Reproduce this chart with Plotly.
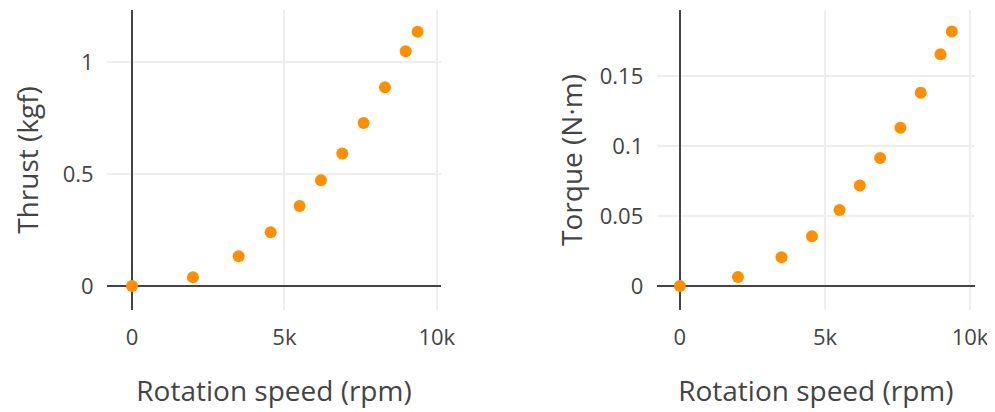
import plotly.graph_objects as go
from plotly.subplots import make_subplots

rpm = [0, 2000, 3500, 4550, 5500, 6200, 6900, 7600, 8300, 8980, 9370]
thrust_kgf = [0, 0.039, 0.133, 0.24, 0.357, 0.472, 0.592, 0.728, 0.887, 1.048, 1.135]
torque_nm = [0, 0.0064, 0.0205, 0.0355, 0.0543, 0.0717, 0.0914, 0.113, 0.138, 0.1655, 0.1817]

x_title = "Rotation speed (rpm)"
y1_title = "Thrust (kgf)"
y2_title = "Torque (N·m)"

marker_color = "#ff8f00"
font_color = "#444"

fig = make_subplots(rows=1, cols=2)
fig.add_trace(go.Scatter(x=rpm, y=thrust_kgf, mode="markers",
                         marker=dict(color=marker_color, size=12), showlegend=False), row=1, col=1)
fig.add_trace(go.Scatter(x=rpm, y=torque_nm, mode="markers",
                         marker=dict(color=marker_color, size=12), showlegend=False), row=1, col=2)

axis_common = dict(
    showgrid=True, gridcolor="#eeeeee", gridwidth=2,
    zeroline=True, zerolinecolor="#444", zerolinewidth=2,
    showline=False, automargin=False,
    ticks="outside", ticklen=8, tickcolor="rgba(0,0,0,0)",
    tickfont=dict(size=22, color=font_color, family="Open Sans"),
)

# page body has an 8px default margin, so the figure is 8px smaller than the window
fig.update_layout(
    template="none",
    width=987, height=404,
    margin=dict(l=99, r=20, t=2, b=102),
    paper_bgcolor="white", plot_bgcolor="white",
    font=dict(family="Open Sans", color=font_color),
    xaxis=dict(domain=[0, 0.3848], range=[-820, 10140], dtick=5000, tickformat="~s",
               title=dict(text=x_title, font=dict(size=28, color=font_color), standoff=30), **axis_common),
    xaxis2=dict(domain=[0.6333, 1.0], range=[-800, 10170], dtick=5000, tickformat="~s",
                title=dict(text=x_title, font=dict(size=28, color=font_color), standoff=30), **axis_common),
    yaxis=dict(range=[-0.107, 1.232], dtick=0.5,
               title=dict(text=y1_title, font=dict(size=28, color=font_color), standoff=23), **axis_common),
    yaxis2=dict(range=[-0.0171, 0.197], dtick=0.05,
                title=dict(text=y2_title, font=dict(size=28, color=font_color), standoff=8), **axis_common),
)

fig.write_html("out.html")
